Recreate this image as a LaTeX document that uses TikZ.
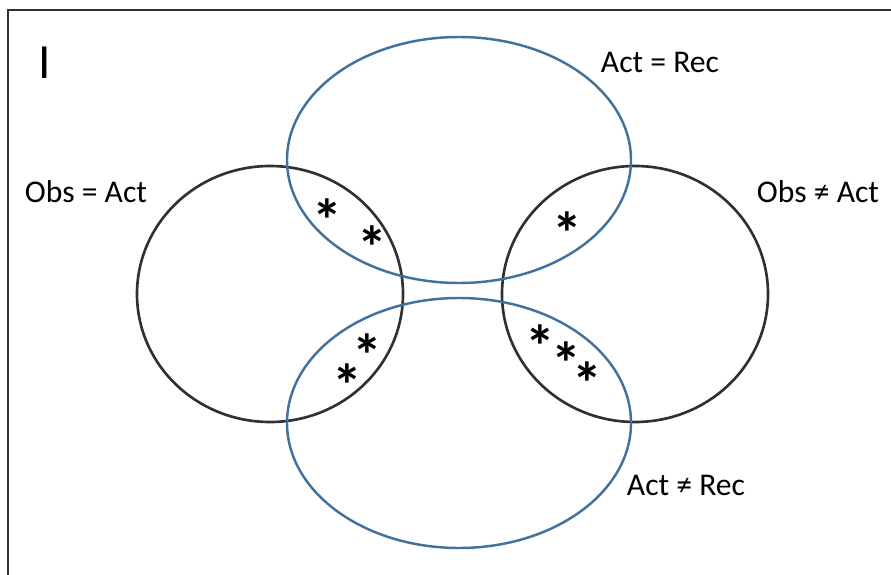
\documentclass[tikz,border=0pt]{standalone}
\usepackage{fontspec}
\setmainfont{Carlito}
\usepackage{tikz}
\usetikzlibrary{positioning}

\definecolor{setblue}{HTML}{41719C}
\definecolor{setgray}{HTML}{303030}

\tikzset{
  label/.style={font=\fontsize{18}{21}\selectfont, inner sep=0pt},
  star/.style={font=\fontsize{34}{36}\selectfont\bfseries, inner sep=0pt},
  blueset/.style={draw=setblue, line width=1.4pt},
  grayset/.style={draw=setgray, line width=1.5pt}
}

\begin{document}
\begin{tikzpicture}[x=0.02cm, y=-0.02cm]
\useasboundingbox (0,0) rectangle (891,574);
\draw[setgray, line width=1.7pt] (8,580) -- (8,10) -- (900,10);

% the four sets
\draw[grayset] (270,294) ellipse (133 and 128);
\draw[grayset] (635,294) ellipse (133 and 128);
\draw[blueset] (459,160) ellipse (172 and 123);
\draw[blueset] (459,423) ellipse (172 and 125);

\node[label, font=\fontsize{28}{30}\selectfont] (panel) at (45,63) {I};
\node[label] (actrec) at (660,62) {Act = Rec};
\node[label] (obsact) at (86,192) {Obs = Act};
\node[label] (obsnact) at (818,192) {Obs ≠ Act};
\node[label] (actnrec) at (686,485) {Act ≠ Rec};

% marks in the overlaps
\node[star] (s1) at (327,220) {*};
\node[star] (s2) at (372,247) {*};
\node[star] (s3) at (567,233) {*};
\node[star] (s4) at (367,355) {*};
\node[star] (s5) at (347,385) {*};
\node[star] (s6) at (540,346) {*};
\node[star] (s7) at (566,363) {*};
\node[star] (s8) at (587,383) {*};

\end{tikzpicture}
\end{document}
